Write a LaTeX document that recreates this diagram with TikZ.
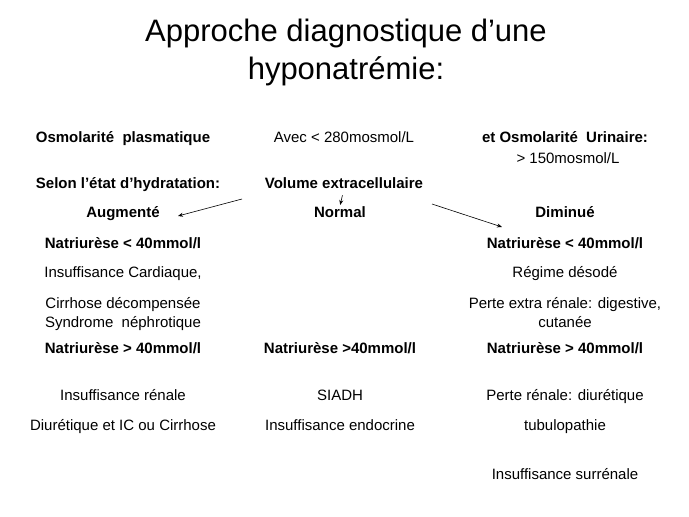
\documentclass[tikz,border=0pt]{standalone}
\usepackage{fontspec}
\setmainfont{Liberation Sans}
\usetikzlibrary{arrows.meta}

\begin{document}
\begin{tikzpicture}[>={Stealth[length=5pt,width=4pt]},x=1pt,y=-1pt,
		every node/.style={font=\fontsize{15}{19}\selectfont,align=center,inner sep=0pt,anchor=base},
		gras/.style={font=\fontsize{15}{19}\selectfont\bfseries},
		fleche/.style={->,line width=0.6pt}]
		\useasboundingbox[fill=white] (0,0) rectangle (689,517);
		% base = derniere ligne
		\node[font=\fontsize{31}{38}\selectfont] (titre) at (346,79) {Approche diagnostique d’une\\hyponatrémie:};
		% osmolarite
		\node[gras] (osmp) at (123,142) {Osmolarité\ \ plasmatique};
		\node (avec) at (344,142) {Avec < 280mosmol/L};
		\node[gras] (osmu) at (565,142) {et Osmolarité\ \ Urinaire:};
		\node (urin) at (568,163) {> 150mosmol/L};
		% hydratation
		\node[gras] (selon) at (128,188) {Selon l’état d’hydratation:};
		\node[gras] (vol) at (344,188) {Volume extracellulaire};
		\node[gras] (aug) at (123,217) {Augmenté};
		\node[gras] (norm) at (340,217) {Normal};
		\node[gras] (dim) at (565,217) {Diminué};
		\coordinate (gA) at (242,199);
		\coordinate (fA) at (178,216);
		\coordinate (gD) at (432,204);
		\coordinate (fD) at (502,227);
		\draw[fleche] (gA) -- (fA);
		\draw[fleche,shorten <=7pt,shorten >=1pt] (vol.south) -- (norm.north);
		\draw[fleche] (gD) -- (fD);
		% natriurese basse
		\node[gras] (natA) at (123,248) {Natriurèse < 40mmol/l};
		\node[gras] (natD) at (565,248) {Natriurèse < 40mmol/l};
		\node (icard) at (123,277) {Insuffisance Cardiaque,};
		\node (regime) at (565,277) {Régime désodé};
		\node (cirr) at (123,327) {Cirrhose décompensée\\Syndrome\ \ néphrotique};
		\node (perte) at (565,327) {Perte extra rénale: digestive,\\cutanée};
		% natriurese haute
		\node[gras] (natA2) at (123,353) {Natriurèse > 40mmol/l};
		\node[gras] (natN) at (340,353) {Natriurèse >40mmol/l};
		\node[gras] (natD2) at (565,353) {Natriurèse > 40mmol/l};
		\node (irenal) at (123,400) {Insuffisance rénale};
		\node (siadh) at (340,400) {SIADH};
		\node (prenal) at (565,400) {Perte rénale: diurétique};
		\node (diur) at (123,430) {Diurétique et IC ou Cirrhose};
		\node (iendo) at (340,430) {Insuffisance endocrine};
		\node (tubu) at (565,430) {tubulopathie};
		\node (isurr) at (565,479) {Insuffisance surrénale};
	\end{tikzpicture}
\end{document}
